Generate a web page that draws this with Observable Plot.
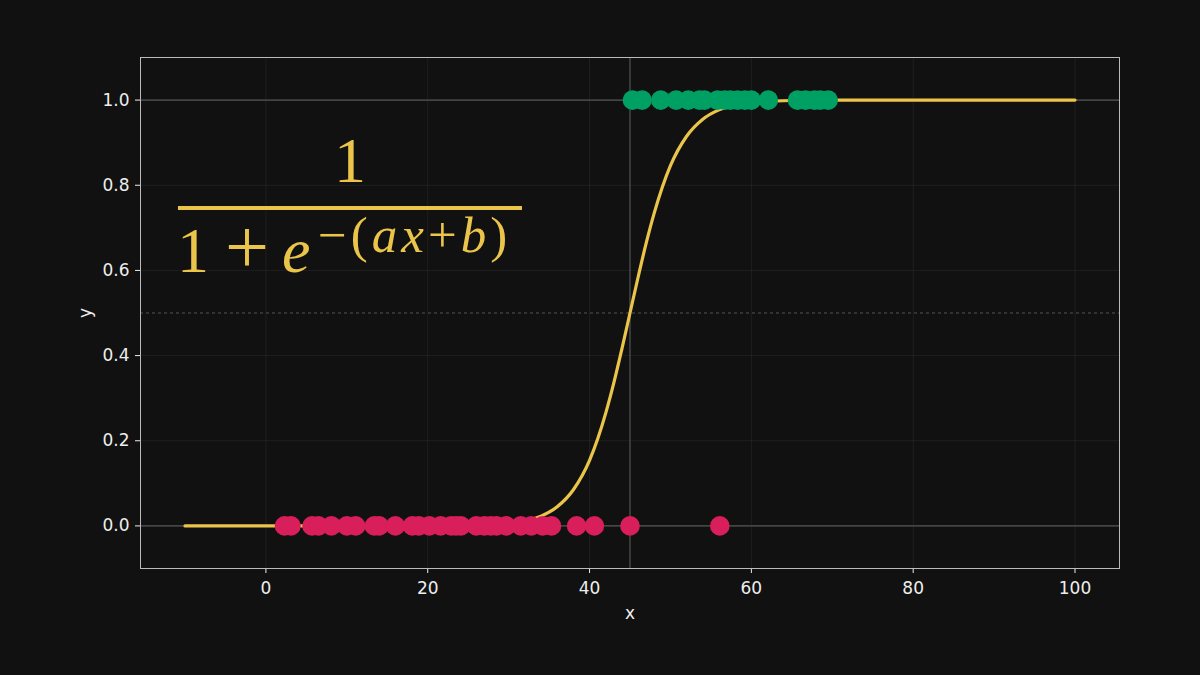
<!DOCTYPE html>
<html>
<head>
<meta charset="utf-8">
<script src="https://cdn.jsdelivr.net/npm/d3@7"></script>
<script src="https://cdn.jsdelivr.net/npm/@observablehq/plot@0.6"></script>
<style>
  html, body { margin: 0; padding: 0; background: #111111; }
  #wrap { position: relative; width: 1200px; height: 675px; overflow: hidden; }
  .f { position: absolute; color: #ebc54a; font-family: "Liberation Serif", serif; line-height: 1; white-space: nowrap; }
  #bar { position: absolute; left: 178px; top: 206px; width: 344px; height: 4px; background: #ebc54a; }
</style>
</head>
<body>
<div id="wrap">
  <div id="chart"></div>
  <div class="f" style="left:318px; top:129px; width:64px; text-align:center; font-size:64px;">1</div>
  <div id="bar"></div>
  <div class="f" style="left:177px; top:219px; font-size:64px;">1</div>
  <div class="f" style="left:225px; top:208px; font-size:78px;">+</div>
  <div class="f" style="left:282px; top:219px; font-size:64px; font-style:italic;">e</div>
  <div class="f" style="left:318px; top:210px; font-size:51px; letter-spacing:4px;">−(<i>ax</i>+<i>b</i>)</div>
</div>
<script>
// Class 0 points (y = 0)
const redX = [2.3, 3.1, 5.7, 6.5, 8.1, 10.0, 11.1, 13.4, 14.0, 16.0, 18.1, 18.9, 20.2, 21.6, 22.9, 23.5, 24.1, 26.0, 27.0, 27.8, 28.5, 29.7, 31.5, 32.8, 34.2, 35.3, 38.4, 40.6, 45.0, 56.1];
// Class 1 points (y = 1)
const greenX = [45.3, 46.5, 48.8, 50.7, 52.2, 53.6, 54.2, 55.8, 56.7, 57.4, 58.3, 59.2, 60.0, 62.1, 65.7, 66.7, 67.8, 68.5, 69.5];
// Fitted sigmoid curve
const curveX = [-10, 0, 10, 20, 25, 30, 32, 34, 36, 38, 40, 41, 42, 43, 44, 45, 46, 47, 48, 49, 50, 52, 54, 56, 58, 60, 65, 70, 80, 100];
const curveY = [0, 0, 0, 0.0002, 0.001, 0.006, 0.012, 0.023, 0.045, 0.085, 0.154, 0.204, 0.265, 0.336, 0.416, 0.5, 0.584, 0.664, 0.735, 0.796, 0.846, 0.915, 0.955, 0.977, 0.988, 0.994, 0.999, 1, 1, 1];
// Reference lines
const classLevels = [0, 1];
const threshold = [0.5];
const boundary = [45];
// Ticks
const xTicks = [0, 20, 40, 60, 80, 100];
const yTicks = [0, 0.2, 0.4, 0.6, 0.8, 1.0];

const curve = curveX.map((x, i) => ({x, y: curveY[i]}));
const reds = redX.map(x => ({x, y: 0}));
const greens = greenX.map(x => ({x, y: 1}));

const chart = Plot.plot({
  width: 1200,
  height: 675,
  marginLeft: 140,
  marginRight: 81,
  marginTop: 57,
  marginBottom: 107,
  style: { background: "#111111", color: "#eeeeee", fontFamily: "DejaVu Sans", fontSize: "17px" },
  x: { domain: [-15.5, 105.5] },
  y: { domain: [-0.1, 1.1] },
  marks: [
    Plot.gridX(xTicks, { stroke: "#ffffff", strokeOpacity: 0.06 }),
    Plot.gridY(yTicks, { stroke: "#ffffff", strokeOpacity: 0.06 }),
    Plot.ruleY(classLevels, { stroke: "#555555", strokeWidth: 1.2 }),
    Plot.ruleY(threshold, { stroke: "#555555", strokeDasharray: "3,3" }),
    Plot.ruleX(boundary, { stroke: "#555555", strokeWidth: 1.2 }),
    Plot.line(curve, { x: "x", y: "y", stroke: "#ebc54a", strokeWidth: 3.2, curve: "monotone-x" }),
    Plot.dot(reds, { x: "x", y: "y", r: 9.8, fill: "#d81e5b" }),
    Plot.dot(greens, { x: "x", y: "y", r: 9.8, fill: "#00a064" }),
    Plot.axisX(xTicks, { tickSize: 5, tickPadding: 8, stroke: "#eeeeee", label: "x", labelAnchor: "center", labelArrow: "none", labelOffset: 50 }),
    Plot.axisY(yTicks, { tickSize: 5, tickPadding: 6, stroke: "#eeeeee", tickFormat: d3.format(".1f"), label: "y", labelAnchor: "center", labelArrow: "none", labelOffset: 62 }),
    Plot.frame({ stroke: "#bbbbbb" })
  ]
});
document.getElementById("chart").appendChild(chart);
</script>
</body>
</html>
